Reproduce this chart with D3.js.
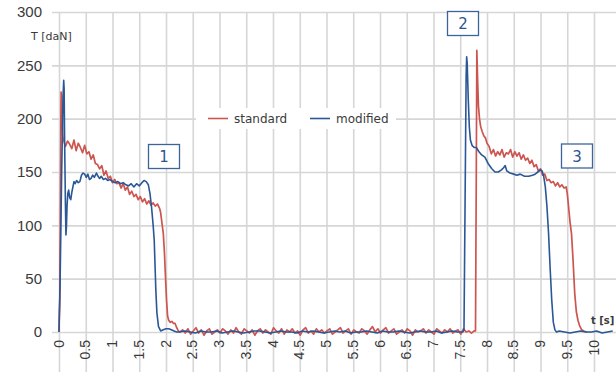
<!DOCTYPE html>
<html>
<head>
<meta charset="utf-8">
<script src="https://cdn.jsdelivr.net/npm/d3@7"></script>
<style>
	body { margin: 0; background: #fff; }
	svg { display: block; font-family: "DejaVu Sans", Verdana, sans-serif; }
</style>
</head>
<body>
<div id="chart"></div>
<script>
// tick labels
const xTicks = [0, 0.5, 1, 1.5, 2, 2.5, 3, 3.5, 4, 4.5, 5, 5.5, 6, 6.5, 7, 7.5, 8, 8.5, 9, 9.5, 10];
const yTicks = [0, 50, 100, 150, 200, 250, 300];

// "standard" series, t [s] / T [daN]
const stdRise1 = [[0, 0], [0.005, 14], [0.015, 30], [0.025, 110], [0.035, 200], [0.04, 225], [0.05, 221], [0.06, 200], [0.07, 184]];
// sampled every 0.04 s from 0.08 s
const stdPlateau1 = [181, 174, 179, 176, 172, 180, 170, 177, 173, 168, 175, 167, 169, 162, 166, 158, 157, 153, 156, 147,
	151, 144, 146, 140, 143, 139, 140, 135, 139, 133, 136, 129, 132, 127, 129, 124, 127, 122, 125, 120,
	123, 119, 121, 118, 120, 116];
const stdDrop1 = [[1.90, 112], [1.93, 100], [1.95, 92], [1.97, 75], [1.99, 52], [2.01, 30], [2.03, 15], [2.05, 11],
	[2.08, 9], [2.11, 10], [2.14, 8], [2.17, 8], [2.2, 4], [2.23, 1]];
// sampled every 0.05 s from 2.26 s
const stdIdle = [0, 2, -1, 3, -2, 1, 4, -1, 2, -3, 1, 3, -2, 0, 2, -1, 3, 1, -2, 2,
	-1, 4, 0, -2, 3, 1, -1, 2, -3, 1, 3, -1, 2, 0, -2, 4, 1, -1, 3, -2,
	2, 0, 3, -1, 1, -3, 2, 4, -1, 1, -2, 3, 0, 2, -1, 1, 3, -2, 0, 2,
	4, -1, 1, 3, -2, 2, 0, -1, 3, 1, -2, 2, 5, 0, 3, -1, 2, 4, -1, 1,
	3, -2, 0, 2, -1, 3, 1, -3, 2, 0, 1, 3, -1, 2, 0, -2, 3, 1, -1, 2,
	0, 3, -1, 1, 2, -2, 3, 0, 1, -1, 1];
const stdRise2 = [[7.785, 1], [7.80, 150], [7.81, 264], [7.825, 236], [7.84, 212], [7.86, 200], [7.88, 193],
	[7.91, 188], [7.94, 184], [7.97, 182], [8.0, 177]];
// sampled every 0.04 s from 8.04 s
const stdPlateau2 = [174, 167, 171, 165, 169, 166, 171, 164, 168, 167, 171, 164, 169, 165, 168, 162, 166, 161, 163, 158,
	161, 155, 157, 151, 153, 147, 148, 142, 143, 140, 141, 137, 140, 136, 138, 135, 136];
const stdDrop2 = [[9.5, 130], [9.52, 120], [9.55, 104], [9.58, 92], [9.61, 66], [9.64, 36], [9.67, 19], [9.7, 11],
	[9.73, 6], [9.77, 2], [9.81, 1], [9.86, 0]];

// "modified" series
const modRise1 = [[0, 0], [0.02, 45], [0.05, 150], [0.075, 220], [0.088, 236], [0.096, 228], [0.105, 180], [0.12, 120],
	[0.13, 91], [0.14, 100], [0.15, 118], [0.165, 130], [0.18, 133], [0.2, 126], [0.22, 124], [0.24, 131], [0.26, 136], [0.28, 141]];
const modPlateau1 = [[0.3, 139], [0.33, 142], [0.36, 140], [0.39, 141], [0.42, 147], [0.45, 149], [0.48, 148], [0.51, 145],
	[0.54, 148], [0.57, 143], [0.6, 144], [0.63, 147], [0.66, 145], [0.7, 149], [0.73, 146], [0.76, 144], [0.79, 146],
	[0.83, 143], [0.87, 144], [0.91, 142], [0.95, 143], [1.0, 141], [1.05, 140], [1.1, 141], [1.15, 139], [1.2, 140],
	[1.25, 138], [1.3, 137], [1.35, 139], [1.4, 136], [1.45, 139], [1.5, 137], [1.55, 140], [1.59, 142], [1.63, 141], [1.67, 138]];
const modDrop1 = [[1.70, 130], [1.73, 117], [1.76, 100], [1.78, 86], [1.80, 55], [1.81, 39], [1.83, 18], [1.86, 5],
	[1.9, 1], [1.95, 2], [2.0, 3], [2.05, 3], [2.1, 2], [2.15, 1], [2.2, 0]];
// sampled every 0.1 s from 2.25 s
const modIdle = [0, 1, 0, -1, 1, 0, 0, 1, -1, 0, 1, 0, -1, 0, 1, 1, 0, -1, 0, 1,
	0, 0, -1, 1, 0, 1, 0, -1, 0, 1, 0, 1, -1, 0, 0, 1, 0, -1, 1, 0,
	0, 1, 0, -1, 0, 1, 0, 0, 1, -1, 0, 1, 0];
const modRise2 = [[7.55, 0], [7.57, 2], [7.59, 120], [7.61, 240], [7.62, 258], [7.63, 252], [7.65, 218], [7.67, 192],
	[7.69, 180], [7.72, 175], [7.76, 173], [7.8, 173], [7.85, 169], [7.9, 166], [7.96, 164], [8.02, 158], [8.09, 153],
	[8.15, 150], [8.21, 150], [8.27, 152], [8.31, 154], [8.34, 156], [8.37, 151], [8.43, 149], [8.5, 148], [8.56, 147],
	[8.62, 148], [8.7, 146], [8.78, 146], [8.85, 147], [8.9, 148], [8.95, 150], [9.0, 152], [9.03, 151], [9.06, 146],
	[9.09, 136], [9.12, 118], [9.15, 93], [9.18, 60], [9.21, 30], [9.24, 9], [9.27, 2], [9.3, 0]];
// sampled every 0.1 s from 9.35 s
const modIdle2 = [1, 0, -1, 0, 1, 0, 0, 1, -1, 0, 1];

// uniform samples -> [t, v]
function sampled(t0, dt, values) {
	return values.map((v, i) => [t0 + i * dt, v]);
}

const standard = [].concat(
	stdRise1, sampled(0.08, 0.04, stdPlateau1), stdDrop1,
	sampled(2.26, 0.05, stdIdle), stdRise2,
	sampled(8.04, 0.04, stdPlateau2), stdDrop2
);
const modified = [].concat(
	modRise1, modPlateau1, modDrop1,
	sampled(2.25, 0.1, modIdle), modRise2, sampled(9.35, 0.1, modIdle2)
);

const width = 616, height = 372;
const colStd = "#cd5550", colMod = "#2a5795", textCol = "#3a3a3a", gridCol = "#d6d6d6";

const svg = d3.select("#chart")
	.append("svg")
	.attr("width", width)
	.attr("height", height);

const x = d3.scaleLinear().domain([0, 10.4]).range([59, 615.4]);
const y = d3.scaleLinear().domain([0, 300]).range([332, 12]);

// vertical grid + rotated labels
const gx = svg.append("g")
	.attr("transform", `translate(0, ${height})`)
	.call(d3.axisBottom(x).tickValues(xTicks).tickSize(-(height - y(300))).tickFormat(d => String(d)));
gx.select(".domain").remove();
gx.selectAll(".tick line").attr("stroke", gridCol).attr("stroke-width", 1.6);
gx.selectAll(".tick text")
	.attr("transform", "rotate(-90)")
	.attr("text-anchor", "end")
	.attr("x", height - 340)
	.attr("y", 0)
	.attr("dy", "0.3em")
	.attr("fill", textCol)
	.style("font-size", "14px");

// horizontal grid + labels
const gy = svg.append("g")
	.attr("transform", "translate(52, 0)")
	.call(d3.axisLeft(y).tickValues(yTicks).tickSize(-(width - 52)).tickPadding(10));
gy.select(".domain").remove();
gy.selectAll(".tick line").attr("stroke", gridCol).attr("stroke-width", 1.6);
gy.selectAll(".tick text")
	.attr("fill", textCol)
	.style("font-size", "15px");

// axis titles
svg.append("text").attr("x", 31).attr("y", 40).attr("fill", textCol)
	.style("font-size", "11px").text("T [daN]");
svg.append("text").attr("x", 591).attr("y", 324).attr("fill", textCol)
	.style("font-size", "10px").style("font-weight", "bold").text("t [s]");

const line = d3.line()
	.x(([t]) => x(t))
	.y(([_, v]) => y(v));

svg.append("path")
	.datum(standard)
	.attr("fill", "none")
	.attr("stroke", colStd)
	.attr("stroke-width", 1.7)
	.attr("stroke-linejoin", "round")
	.attr("d", line);

svg.append("path")
	.datum(modified)
	.attr("fill", "none")
	.attr("stroke", colMod)
	.attr("stroke-width", 1.6)
	.attr("stroke-linejoin", "round")
	.attr("d", line);

// legend
const legend = svg.append("g");
legend.append("rect").attr("x", 196).attr("y", 108).attr("width", 200).attr("height", 21).attr("fill", "#fff");
[["standard", colStd, 208], ["modified", colMod, 310]].forEach(([name, col, lx]) => {
	legend.append("line").attr("x1", lx).attr("x2", lx + 20).attr("y1", 118.5).attr("y2", 118.5)
		.attr("stroke", col).attr("stroke-width", 1.6);
	legend.append("text").attr("x", lx + 26).attr("y", 122.5).attr("fill", textCol)
		.style("font-size", "12px").text(name);
});

// numbered boxes
[["1", 148.5, 144.5], ["2", 447.5, 11.5], ["3", 561.5, 144]].forEach(([label, bx, by]) => {
	svg.append("rect").attr("x", bx).attr("y", by).attr("width", 31).attr("height", 24)
		.attr("fill", "#fff").attr("stroke", "#3d649a").attr("stroke-width", 1.3);
	svg.append("text").attr("x", bx + 15.5).attr("y", by + 17.5).attr("text-anchor", "middle")
		.attr("fill", "#2f5590").style("font-size", "15px").text(label);
});
</script>
</body>
</html>
